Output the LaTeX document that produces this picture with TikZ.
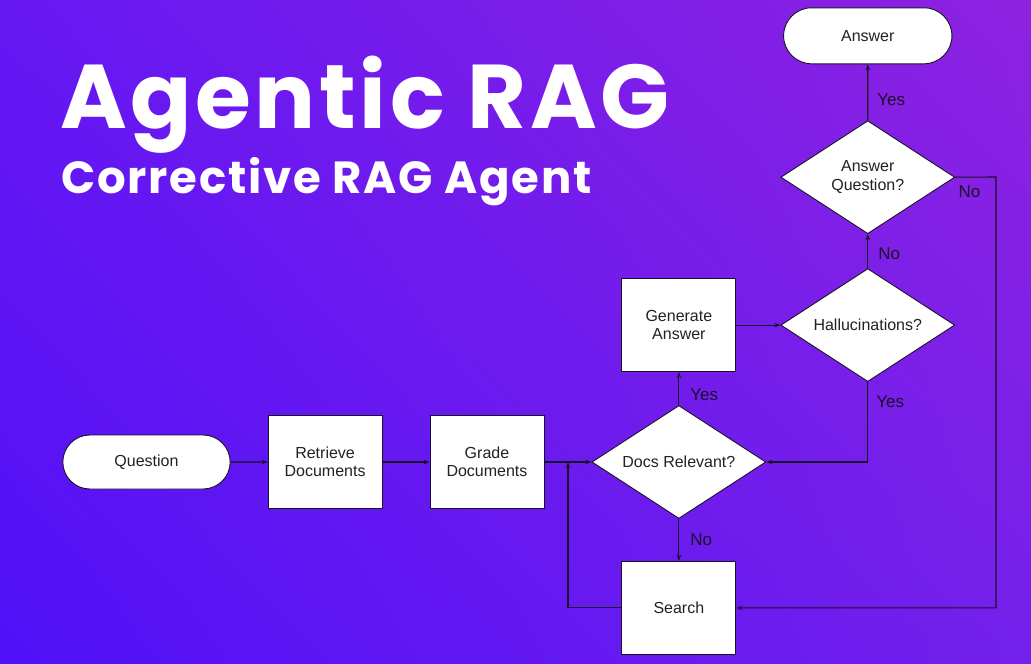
\documentclass[tikz,border=0pt]{standalone}
\usepackage{fontspec}
\setmainfont{Liberation Sans}
\newfontfamily\titlefont[LetterSpace=4]{Poppins}
\usetikzlibrary{shapes.geometric, shapes.misc, arrows.meta, positioning, shadings}

\definecolor{bgll}{RGB}{80,16,248}
\definecolor{bgul}{RGB}{102,24,242}
\definecolor{bglr}{RGB}{116,32,236}
\definecolor{bgur}{RGB}{142,34,224}
\definecolor{linecol}{RGB}{26,16,40}
\definecolor{textcol}{RGB}{34,34,34}

\begin{document}
\begin{tikzpicture}[
    x=1pt, y=-1pt,
    node distance=40pt and 45pt,
    terminal/.style={rounded rectangle, draw=linecol, fill=white, line width=0.9pt, minimum width=174pt, minimum height=54pt, text=textcol, font=\fontsize{16}{18}\selectfont},
    process/.style={rectangle, draw=linecol, fill=white, line width=0.9pt, minimum width=114pt, minimum height=93pt, align=center, text=textcol, font=\fontsize{16}{18.5}\selectfont},
    decision/.style={diamond, draw=linecol, fill=white, line width=0.9pt, aspect=1.54, inner sep=0pt, minimum width=174pt, minimum height=113pt, align=center, text=textcol, font=\fontsize{16}{18.5}\selectfont},
    edgelabel/.style={font=\fontsize{17}{20}\selectfont, text=linecol, inner sep=2pt},
    arrow/.style={line width=1.1pt, draw=linecol, -{Stealth[length=6pt, width=4.5pt]}}
]

% Background
\shade[lower left=bgll, upper left=bgul, lower right=bglr, upper right=bgur] (0,664) rectangle (1031,0);
\useasboundingbox (0,0) rectangle (1031,664);

% Title
\node (title) [anchor=base west, inner sep=0pt, text=white, font=\titlefont\bfseries\fontsize{90.5}{100}\selectfont] at (60,128) {Agentic RAG};
\node (subtitle) [anchor=base west, inner sep=0pt, text=white, font=\titlefont\bfseries\fontsize{45}{50}\selectfont] at (61,193) {Corrective RAG Agent};

% Nodes
\node (question) [terminal] at (146.5,462) {Question};
\node (retrieve) [process, right=37pt of question] {Retrieve\\Documents};
\node (grade) [process, right=47pt of retrieve] {Grade\\Documents};
\node (docs) [decision, right=47pt of grade] {Docs Relevant?};
\node (search) [process, below=42pt of docs] {Search};
\node (generate) [process, above=33pt of docs] {Generate\\Answer};
\node (halluc) [decision, right=44pt of generate] {Hallucinations?};
\node (check) [decision, above=34pt of halluc] {Answer\\Question?};
\node (answer) [terminal, minimum width=175pt, minimum height=56pt, above=56pt of check] {Answer};

\coordinate (merge) at (568,462);
\coordinate (loopback) at (996,177);

% Connections
\draw [arrow] (question) -- (retrieve);
\draw [arrow] (retrieve) -- (grade);
\draw [arrow] (grade) -- (docs);
\draw [arrow] (docs) -- node[edgelabel, right, xshift=9pt, yshift=-6pt] {Yes} (generate);
\draw [arrow] (docs) -- node[edgelabel, right, xshift=9pt] {No} (search);
\draw [arrow] (search.west) -| (merge);
\draw [arrow] (generate) -- (halluc);
\draw [arrow] (halluc.south) |- node[edgelabel, right, pos=0.12, xshift=6pt] {Yes} (docs.east);
\draw [arrow] (halluc) -- node[edgelabel, right, xshift=8pt, yshift=-3pt] {No} (check);
\draw [arrow] (check) -- node[edgelabel, right, xshift=7pt, yshift=-7pt] {Yes} (answer);
\draw [arrow] (check.east) -- node[edgelabel, below, pos=0.35, yshift=-6pt] {No} (loopback) |- (search.east);

\end{tikzpicture}
\end{document}
